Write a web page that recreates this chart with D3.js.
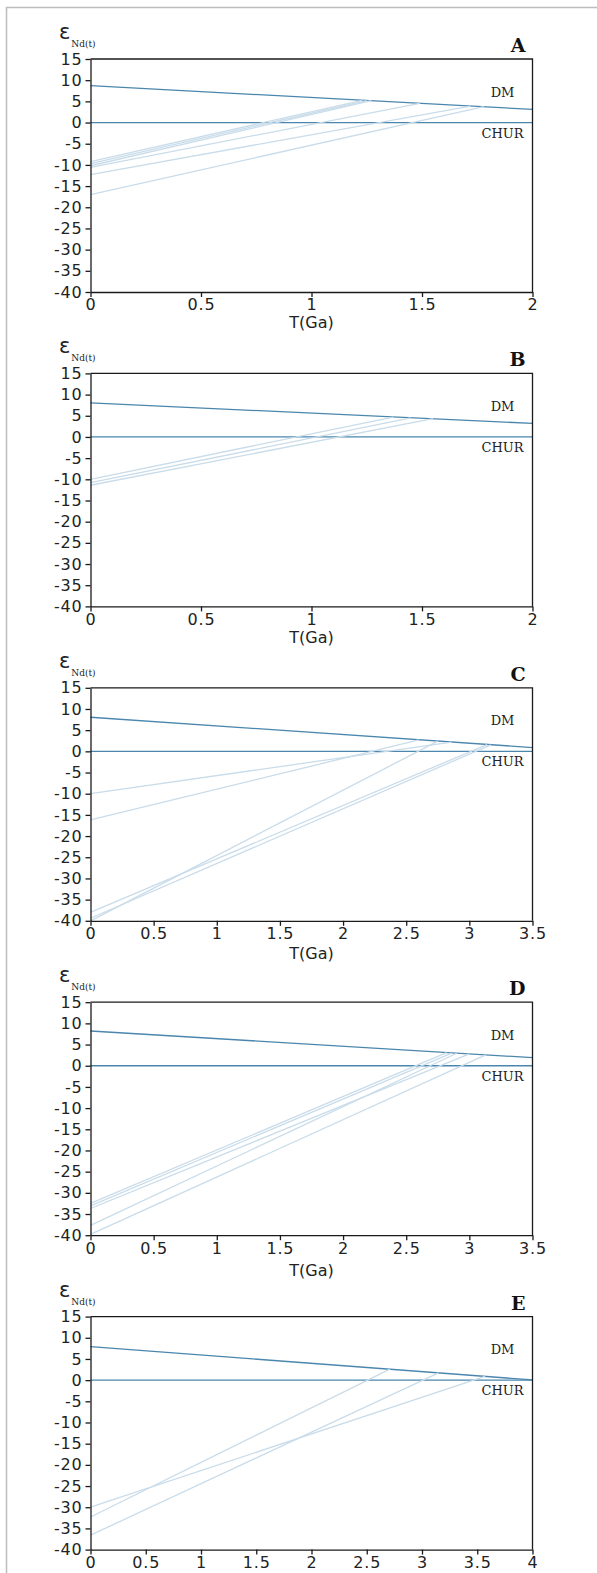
<!DOCTYPE html>
<html>
<head>
<meta charset="utf-8">
<script src="https://cdn.jsdelivr.net/npm/d3@7"></script>
<style>
  html, body { margin: 0; padding: 0; background: #fff; }
  svg { display: block; }
  .tick text { font-family: "DejaVu Sans", sans-serif; font-size: 16px; fill: #222; letter-spacing: 0.8px; }
  .tick line, .domain { stroke: #1a1a1a; stroke-width: 1.3; }
</style>
</head>
<body>
<div id="chart"></div>
<script>
// y axis is shared by all five panels
var yTicks = [15, 10, 5, 0, -5, -10, -15, -20, -25, -30, -35, -40];

var xTicksA = [0, 0.5, 1, 1.5, 2];
var xTicksB = [0, 0.5, 1, 1.5, 2];
var xTicksC = [0, 0.5, 1, 1.5, 2, 2.5, 3, 3.5];
var xTicksD = [0, 0.5, 1, 1.5, 2, 2.5, 3, 3.5];
var xTicksE = [0, 0.5, 1, 1.5, 2, 2.5, 3, 3.5, 4];

// depleted mantle line: [T(Ga), eNd] at both ends
var dmA = [[0, 8.7], [2, 3.1]];
var dmB = [[0, 8.05], [2, 3.2]];
var dmC = [[0, 8.05], [3.5, 0.9]];
var dmD = [[0, 8.2], [3.5, 1.9]];
var dmE = [[0, 7.9], [4, 0.05]];

// samples: eNd today, model age T_DM (Ga), eNd at T_DM
var samplesA = [
    [-9.2, 1.23, 5.25],
    [-9.7, 1.25, 5.2],
    [-10.2, 1.27, 5.15],
    [-10.6, 1.49, 4.55],
    [-12.3, 1.72, 3.9],
    [-17.0, 1.78, 3.75]
];
var samplesB = [
    [-10.0, 1.37, 4.7],
    [-10.8, 1.45, 4.5],
    [-11.4, 1.55, 4.3]
];
var samplesC = [
    [-10.0, 2.86, 2.2],
    [-16.2, 2.60, 2.7],
    [-38.0, 3.14, 1.6],
    [-39.4, 3.17, 1.55],
    [-40.0, 2.75, 2.4]
];
var samplesD = [
    [-32.5, 2.82, 3.1],
    [-33.1, 2.86, 3.0],
    [-33.7, 3.00, 2.8],
    [-37.7, 2.90, 2.95],
    [-39.8, 3.13, 2.55]
];
var samplesE = [
    [-30.0, 3.57, 0.9],
    [-32.3, 2.71, 2.6],
    [-36.6, 3.15, 1.7]
];

// titleDy: offset of the T(Ga) title below the plot (null = runs off the page)
var panels = [
    { name: 'A', xTicks: xTicksA, dm: dmA, samples: samplesA, titleDy: 30 },
    { name: 'B', xTicks: xTicksB, dm: dmB, samples: samplesB, titleDy: 31 },
    { name: 'C', xTicks: xTicksC, dm: dmC, samples: samplesC, titleDy: 33 },
    { name: 'D', xTicks: xTicksD, dm: dmD, samples: samplesD, titleDy: 35 },
    { name: 'E', xTicks: xTicksE, dm: dmE, samples: samplesE, titleDy: null }
];

var width = 597,
    height = 1573,
    plot = { left: 90.5, right: 532.5, top: 59, height: 233 },
    pitch = 314.4,
    dmColor = '#4a86ad',
    sampleColor = '#c9dcea';

var svg = d3.select('#chart').append('svg')
    .attr('width', width)
    .attr('height', height);

// light frame around the whole figure (runs off right / bottom edge)
svg.append('rect')
    .attr('x', 6.5).attr('y', 7.5)
    .attr('width', 700).attr('height', 2000)
    .attr('fill', 'none')
    .attr('stroke', '#bdbdbd')
    .attr('stroke-width', 1.5);

panels.forEach(function (p, i) {
    var top = plot.top + i * pitch,
        xMax = p.xTicks[p.xTicks.length - 1],
        g = svg.append('g').attr('transform', 'translate(0,' + top + ')');

    var x = d3.scaleLinear().domain([0, xMax]).range([plot.left, plot.right]);
    var y = d3.scaleLinear().domain([-40, 15]).range([plot.height, 0]);

    var line = d3.line()
        .x(function (d) { return x(d[0]); })
        .y(function (d) { return y(d[1]); });

    // CHUR and DM reference lines
    g.append('path')
        .datum([[0, 0], [xMax, 0]])
        .attr('d', line)
        .attr('fill', 'none')
        .attr('stroke', dmColor)
        .attr('stroke-width', 1.3);

    g.append('path')
        .datum(p.dm)
        .attr('d', line)
        .attr('fill', 'none')
        .attr('stroke', dmColor)
        .attr('stroke-width', 1.3);

    // sample evolution lines, drawn on top
    g.selectAll('.sample')
        .data(p.samples)
        .enter().append('path')
        .attr('class', 'sample')
        .attr('d', function (s) { return line([[0, s[0]], [s[1], s[2]]]); })
        .attr('fill', 'none')
        .attr('stroke', sampleColor)
        .attr('stroke-width', 1.3);

    // frame: top and right edges
    g.append('path')
        .attr('d', 'M' + plot.left + ',0H' + plot.right + 'V' + plot.height)
        .attr('fill', 'none')
        .attr('stroke', '#1a1a1a')
        .attr('stroke-width', 1.3);

    g.append('g')
        .attr('transform', 'translate(' + plot.left + ',0)')
        .call(d3.axisLeft(y).tickValues(yTicks).tickSize(5).tickSizeOuter(0).tickPadding(3)
            .tickFormat(function (d) { return String(d); }));

    g.append('g')
        .attr('transform', 'translate(0,' + plot.height + ')')
        .call(d3.axisBottom(x).tickValues(p.xTicks).tickSize(5).tickSizeOuter(0).tickPadding(2)
            .tickFormat(function (d) { return String(d); }));

    // x axis title
    if (p.titleDy !== null) {
        g.append('text')
            .attr('x', (plot.left + plot.right) / 2)
            .attr('y', plot.height + p.titleDy)
            .attr('dy', '0.35em')
            .attr('text-anchor', 'middle')
            .style('font-family', '"DejaVu Sans", sans-serif')
            .style('font-size', '16px')
            .style('fill', '#222')
            .text('T(Ga)');
    }

    // y axis title: epsilon Nd(t)
    var yt = g.append('text')
        .attr('x', 59)
        .attr('y', -20)
        .style('fill', '#222');
    yt.append('tspan')
        .style('font-family', '"DejaVu Sans", sans-serif')
        .style('font-size', '21px')
        .text('ε');
    yt.append('tspan')
        .attr('dy', 8)
        .attr('dx', 1)
        .style('font-family', '"DejaVu Serif", serif')
        .style('font-size', '9px')
        .text('Nd(t)');

    // panel letter
    g.append('text')
        .attr('x', plot.right - 7)
        .attr('y', -7)
        .attr('text-anchor', 'end')
        .style('font-family', '"DejaVu Serif", serif')
        .style('font-weight', 'bold')
        .style('font-size', '19px')
        .style('fill', '#111')
        .text(p.name);

    // curve labels
    g.append('text')
        .attr('x', 502.5)
        .attr('y', 33)
        .attr('dy', '0.35em')
        .attr('text-anchor', 'middle')
        .style('font-family', '"DejaVu Serif", serif')
        .style('font-size', '13px')
        .style('fill', '#222')
        .text('DM');

    g.append('text')
        .attr('x', 502.5)
        .attr('y', 74)
        .attr('dy', '0.35em')
        .attr('text-anchor', 'middle')
        .style('font-family', '"DejaVu Serif", serif')
        .style('font-size', '13px')
        .style('fill', '#222')
        .text('CHUR');
});
</script>
</body>
</html>
